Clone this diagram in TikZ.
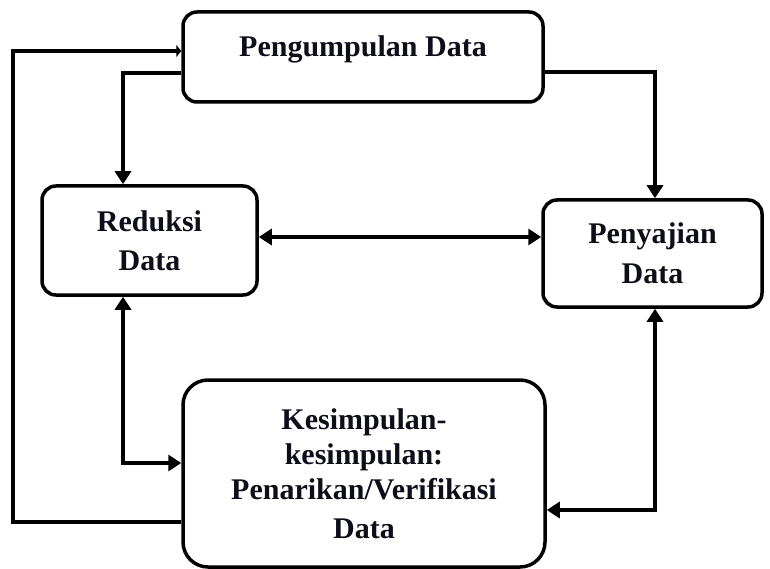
\documentclass[tikz,border=0pt]{standalone}
\usepackage{fontspec}
\setmainfont{Liberation Serif}
\usetikzlibrary{arrows.meta}
\definecolor{textcol}{HTML}{0E0E1A}
\begin{document}
\begin{tikzpicture}[x=1pt,y=-1pt,
  box/.style={draw, line width=3.5pt, rounded corners=14pt, align=center,
    font=\bfseries\fontsize{30}{35}\selectfont, text=textcol, inner sep=0pt},
  conn/.style={line width=3.2pt},
  tip/.tip={Triangle[length=13pt,width=16pt]},
  smalltip/.tip={Triangle[length=5pt,width=12pt]}]
\useasboundingbox (0,0) rectangle (770,569);

% the four stages
\node[box, minimum width=360pt, minimum height=90pt,
      text height=45pt, text depth=45pt] (peng) at (363,57) {Pengumpulan Data};
\node[box, minimum width=215pt, minimum height=109pt] (red) at (149.5,240.5)
  {Reduksi\\[4pt]Data};
\node[box, minimum width=219pt, minimum height=107pt] (saji) at (652.5,253.5)
  {Penyajian\\[5pt]Data};
\node[box, rounded corners=25pt, minimum width=362pt, minimum height=187pt]
  (simp) at (364,473.5)
  {Kesimpulan-\\kesimpulan:\\Penarikan/Verifikasi\\[4pt]Data};

% bend points of the connectors
\coordinate (a1) at (123,73);
\coordinate (a2) at (655,72);
\coordinate (a3) at (0,237);
\coordinate (a4) at (123,463);
\coordinate (a5) at (655,510);
\coordinate (a6) at (13,522);
\coordinate (a7) at (13,51);

\draw[conn,-tip] (peng.west |- a1) -| (red.north -| a1);
\draw[conn,-tip] (peng.east |- a2) -| (saji.north -| a2);
\draw[conn,tip-tip] (red.east |- a3) -- (saji.west |- a3);
\draw[conn,tip-tip] (red.south -| a4) |- (simp.west |- a4);
\draw[conn,tip-tip] (saji.south -| a5) |- (simp.east |- a5);
\draw[conn,-smalltip] (simp.west |- a6) -- (a6) -- (a7) -- (peng.west |- a7);
\end{tikzpicture}
\end{document}
